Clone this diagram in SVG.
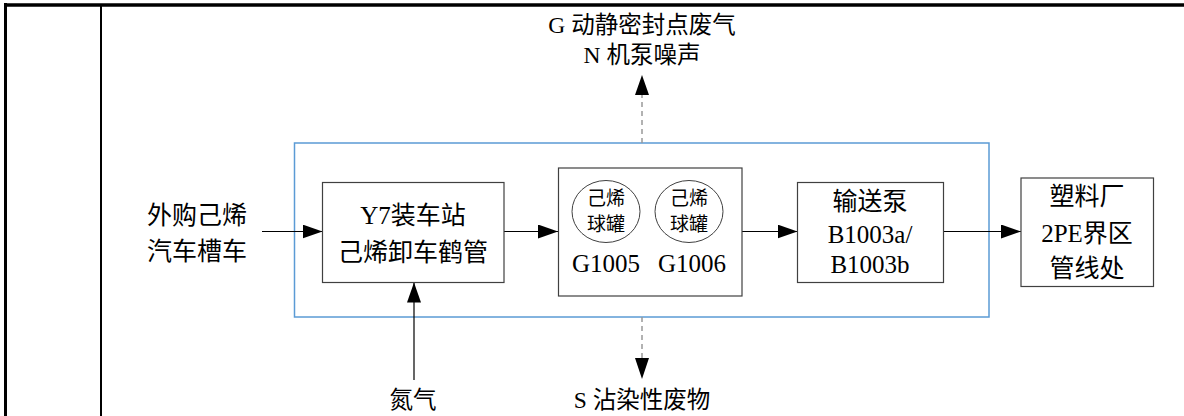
<svg xmlns="http://www.w3.org/2000/svg" width="1184" height="416" viewBox="0 0 1184 416">
<style>
text{font-family:"Liberation Serif","Noto Sans CJK SC",serif;fill:#000;text-anchor:middle}
.box{fill:#fff;stroke:#404040;stroke-width:1.2}
.t26{font-size:25px}
.t22{font-size:23.5px}
.t20{font-size:19px}
.ln{stroke:#000;stroke-width:1.2;fill:none}
.dash{stroke:#999;stroke-width:1.5;stroke-dasharray:5,4;fill:none}
</style>
<defs>
<marker id="ahb" viewBox="0 0 20 14" refX="20" refY="7" markerWidth="20" markerHeight="14" markerUnits="userSpaceOnUse" orient="auto">
<path d="M0,0 L20,7 L0,14 z" fill="#000"/>
</marker>
</defs>
<g id="frame">
<line x1="5.5" y1="3" x2="5.5" y2="416" stroke="#000" stroke-width="3"/>
<line x1="4" y1="5" x2="1184" y2="5" stroke="#000" stroke-width="3.5"/>
<line x1="101" y1="5" x2="101" y2="416" stroke="#000" stroke-width="2"/>
</g>
<g id="boundary">
<rect x="294.5" y="143" width="694.5" height="174" fill="none" stroke="#5B9BD5" stroke-width="1.5"/>
</g>
<g id="connectors">
<line class="ln" x1="262" y1="231.5" x2="322.5" y2="231.5" marker-end="url(#ahb)"/>
<line class="ln" x1="504" y1="231.5" x2="558" y2="231.5" marker-end="url(#ahb)"/>
<line class="ln" x1="742" y1="231.5" x2="797.5" y2="231.5" marker-end="url(#ahb)"/>
<line class="ln" x1="943.5" y1="231.5" x2="1021" y2="231.5" marker-end="url(#ahb)"/>
<line class="ln" x1="414" y1="380" x2="414" y2="282.5" marker-end="url(#ahb)"/>
<line class="dash" x1="642" y1="143" x2="642" y2="95"/>
<path d="M635,95 L642,75 L649,95 z" fill="#000"/>
<line class="dash" x1="642" y1="317" x2="642" y2="358"/>
<path d="M635,358 L642,379 L649,358 z" fill="#000"/>
</g>
<g id="source">
<text class="t26" x="197" y="224">外购己烯</text>
<text class="t26" x="197" y="260">汽车槽车</text>
</g>
<g id="y7">
<rect class="box" x="322.5" y="182.5" width="181.5" height="100"/>
<text class="t26" x="413" y="224">Y7装车站</text>
<text class="t26" x="413" y="261">己烯卸车鹤管</text>
</g>
<g id="tanks">
<rect class="box" x="558.5" y="168" width="183.5" height="128"/>
<ellipse cx="606" cy="211.5" rx="34" ry="31" fill="none" stroke="#404040" stroke-width="1"/>
<ellipse cx="689" cy="211.5" rx="34" ry="31" fill="none" stroke="#404040" stroke-width="1"/>
<text class="t20" x="606" y="205">己烯</text>
<text class="t20" x="606" y="231">球罐</text>
<text class="t20" x="689" y="205">己烯</text>
<text class="t20" x="689" y="231">球罐</text>
<text class="t26" x="606" y="272">G1005</text>
<text class="t26" x="692" y="272">G1006</text>
</g>
<g id="pump">
<rect class="box" x="797.5" y="182.5" width="146" height="100"/>
<text class="t26" x="870" y="210">输送泵</text>
<text class="t26" x="870" y="243">B1003a/</text>
<text class="t26" x="870" y="273">B1003b</text>
</g>
<g id="plant">
<rect class="box" x="1021" y="178" width="132.5" height="108.5"/>
<text class="t26" x="1087" y="205">塑料厂</text>
<text class="t26" x="1087" y="242">2PE界区</text>
<text class="t26" x="1087" y="277">管线处</text>
</g>
<g id="emissions">
<text class="t22" x="642" y="33">G 动静密封点废气</text>
<text class="t22" x="642" y="63">N 机泵噪声</text>
<text class="t22" x="642" y="408">S 沾染性废物</text>
</g>
<g id="nitrogen">
<text class="t22" x="413" y="408">氮气</text>
</g>
</svg>
